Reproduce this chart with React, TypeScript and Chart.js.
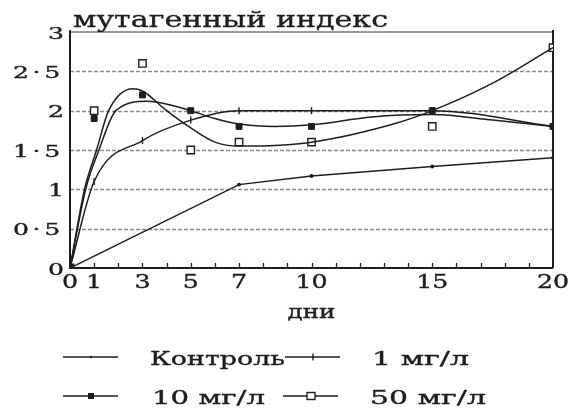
import { useEffect, useRef } from "react";
import { Chart, registerables } from "chart.js";

Chart.register(...registerables);

// ---- data ----
const titleText = "мутагенный индекс";
const xAxisTitle = "дни";
const seriesNames = ["Контроль", "1 мг/л", "10 мг/л", "50 мг/л"];

const days = [0, 1, 3, 5, 7, 10, 15, 20];
const xTickValues = [0, 1, 3, 5, 7, 10, 15, 20];
const yTickValues = [0, 0.5, 1, 1.5, 2, 2.5, 3];
const yTickLabels = ["0", "0·5", "1", "1·5", "2", "2·5", "3"];

const controlDays = [0, 7, 10, 15, 20];
const controlValues = [0, 1.06, 1.17, 1.29, 1.4];

const mg1Values = [0, 1.1, 1.62, 1.88, 2.0, 2.0, 2.0, 1.8];

const mg10Values = [0, 1.9, 2.2, 2.0, 1.8, 1.8, 2.0, 1.8];
const mg10CurveDays = [0, 0.65, 1.2, 1.9, 3.2, 4.2, 5, 6, 7, 8.5, 10, 12.5, 15, 17.5, 20];
const mg10CurveValues = [0, 1.0, 1.5, 2.0, 2.12, 2.07, 2.0, 1.9, 1.83, 1.8, 1.82, 1.92, 1.95, 1.88, 1.8];

const mg50Values = [0, 2.0, 2.6, 1.5, 1.6, 1.6, 1.8, 2.8];
const mg50CurveDays = [0, 0.6, 1.1, 1.6, 2.6, 3, 4, 5, 6, 7, 10, 13.5, 15, 17.5, 20];
const mg50CurveValues = [0, 1.0, 1.5, 2.0, 2.28, 2.25, 2.0, 1.78, 1.6, 1.55, 1.6, 1.84, 2.0, 2.35, 2.8];

const FONT = '"DejaVu Serif", serif';
const INK = "#1e1e1e";

function pts(xs: number[], ys: number[]) {
  return xs.map((x, i) => ({ x, y: ys[i] }));
}

function drawText(
  ctx: CanvasRenderingContext2D,
  text: string,
  x: number,
  baseline: number,
  o: { size: number; weight?: string; align?: "left" | "center" | "right"; targetWidth?: number; scaleX?: number; spacing?: number }
) {
  ctx.save();
  ctx.font = `${o.weight || "normal"} ${o.size}px ${FONT}`;
  (ctx as any).letterSpacing = (o.spacing || 0) + "px";
  ctx.textBaseline = "alphabetic";
  ctx.textAlign = "left";
  ctx.fillStyle = INK;
  const w = ctx.measureText(text).width;
  const sx = o.targetWidth ? o.targetWidth / w : o.scaleX || 1;
  const dw = w * sx;
  const left = o.align === "center" ? x - dw / 2 : o.align === "right" ? x - dw : x;
  ctx.translate(left, baseline);
  ctx.scale(sx, 1);
  ctx.fillText(text, 0, 0);
  ctx.strokeStyle = INK;
  ctx.lineWidth = 0.35;
  ctx.strokeText(text, 0, 0);
  ctx.restore();
}

function marker(ctx: CanvasRenderingContext2D, kind: string, x: number, y: number) {
  ctx.save();
  ctx.strokeStyle = INK;
  ctx.fillStyle = INK;
  ctx.lineWidth = 1.4;
  if (kind === "dot") {
    ctx.beginPath();
    ctx.arc(x, y, 1.2, 0, Math.PI * 2);
    ctx.fill();
  } else if (kind === "cross") {
    ctx.beginPath();
    ctx.moveTo(x, y - 3.5);
    ctx.lineTo(x, y + 3.5);
    ctx.stroke();
  } else if (kind === "filled") {
    ctx.fillRect(x - 3, y - 3, 6, 6);
  } else if (kind === "open") {
    ctx.fillStyle = "#fff";
    ctx.fillRect(x - 4, y - 3.5, 8, 7);
    ctx.strokeRect(x - 4, y - 3.5, 8, 7);
  }
  ctx.restore();
}

const decorPlugin = {
  id: "decor",
  beforeDatasetsDraw(chart: any) {
    const ctx: CanvasRenderingContext2D = chart.ctx;
    const xs = chart.scales.x;
    const ys = chart.scales.y;
    const l = xs.getPixelForValue(0);
    const r = xs.getPixelForValue(20);
    const b = ys.getPixelForValue(0);
    const t = ys.getPixelForValue(3);
    ctx.save();
    ctx.strokeStyle = "#8c8c8c";
    ctx.lineWidth = 1.3;
    ctx.setLineDash([4, 2]);
    yTickValues.forEach((v) => {
      if (v === 0 || v === 3) return;
      const y = Math.round(ys.getPixelForValue(v)) + 0.5;
      ctx.beginPath();
      ctx.moveTo(l, y);
      ctx.lineTo(r, y);
      ctx.stroke();
    });
    ctx.setLineDash([]);
    ctx.strokeStyle = "#7a7a7a";
    ctx.beginPath();
    ctx.moveTo(l, t);
    ctx.lineTo(r, t);
    ctx.stroke();
    ctx.strokeStyle = INK;
    ctx.lineWidth = 2;
    ctx.beginPath();
    ctx.moveTo(l, t - 2);
    ctx.lineTo(l, b);
    ctx.lineTo(r, b);
    ctx.moveTo(r, t - 2);
    ctx.lineTo(r, b);
    ctx.stroke();
    ctx.lineWidth = 1.3;
    for (let d = 1; d < 20; d++) {
      const x = Math.round(xs.getPixelForValue(d)) + 0.5;
      ctx.beginPath();
      ctx.moveTo(x, b);
      ctx.lineTo(x, b - 5);
      ctx.stroke();
    }
    ctx.restore();
  },
  afterDraw(chart: any) {
    const ctx: CanvasRenderingContext2D = chart.ctx;
    const xs = chart.scales.x;
    const ys = chart.scales.y;
    const l = xs.getPixelForValue(0);
    const r = xs.getPixelForValue(20);
    const b = ys.getPixelForValue(0);
    drawText(ctx, titleText, l + 3, 27, { size: 22, targetWidth: 315 });
    ctx.save();
    ctx.font = `normal 17px ${FONT}`;
    const digitW = ctx.measureText("0").width;
    ctx.restore();
    const sx = 16 / digitW;
    yTickValues.forEach((v, i) => {
      const lab = yTickLabels[i];
      drawText(ctx, lab, l - 6, ys.getPixelForValue(v) + 6.5, {
        size: 17,
        align: "right",
        scaleX: sx,
        spacing: lab.length > 1 ? 2.5 : 0,
      });
    });
    xTickValues.forEach((v) => {
      drawText(ctx, String(v), xs.getPixelForValue(v), b + 20, { size: 18, align: "center", scaleX: sx * 0.95 });
    });
    drawText(ctx, xAxisTitle, (l + r) / 2, b + 50, { size: 18, align: "center", targetWidth: 48 });

    const rows = [357, 396];
    const items = [
      { name: seriesNames[0], kind: "dot", lx: 63, tx: 150, w: 135, row: 0 },
      { name: seriesNames[1], kind: "cross", lx: 285, tx: 372, w: 97, row: 0 },
      { name: seriesNames[2], kind: "filled", lx: 63, tx: 152, w: 113, row: 1 },
      { name: seriesNames[3], kind: "open", lx: 283, tx: 370, w: 116, row: 1 },
    ];
    items.forEach((it) => {
      const y = rows[it.row];
      ctx.save();
      ctx.strokeStyle = INK;
      ctx.lineWidth = 1.4;
      ctx.beginPath();
      ctx.moveTo(it.lx, y);
      ctx.lineTo(it.lx + 55, y);
      ctx.stroke();
      ctx.restore();
      marker(ctx, it.kind, it.lx + 28, y);
      drawText(ctx, it.name, it.tx, y + 8, { size: 18, targetWidth: it.w });
    });
  },
};

export default function App() {
  const ref = useRef<HTMLCanvasElement | null>(null);
  useEffect(() => {
    document.body.style.margin = "0";
    const canvas = ref.current!;
    const lineBase = {
      borderColor: INK,
      backgroundColor: INK,
      borderWidth: 1.5,
      fill: false,
      cubicInterpolationMode: "monotone" as const,
    };
    const chart = new Chart(canvas, {
      type: "line",
      data: {
        datasets: [
          {
            ...lineBase,
            label: seriesNames[0],
            data: pts(controlDays, controlValues),
            pointRadius: 1.2,
            cubicInterpolationMode: "default" as any,
            tension: 0,
          },
          {
            ...lineBase,
            label: seriesNames[1],
            data: pts(days, mg1Values),
            pointStyle: "line",
            rotation: 90,
            pointRadius: 3.5,
            pointBorderWidth: 1.4,
          },
          {
            ...lineBase,
            label: seriesNames[2] + " curve",
            data: pts(mg10CurveDays, mg10CurveValues),
            pointRadius: 0,
          },
          {
            ...lineBase,
            label: seriesNames[3] + " curve",
            data: pts(mg50CurveDays, mg50CurveValues),
            pointRadius: 0,
          },
          {
            label: seriesNames[2],
            data: pts(days, mg10Values),
            showLine: false,
            pointStyle: "rect",
            pointRadius: 4.2,
            pointBorderWidth: 1,
            borderColor: INK,
            backgroundColor: INK,
          },
          {
            label: seriesNames[3],
            data: pts(days, mg50Values),
            showLine: false,
            pointStyle: "rect",
            pointRadius: 5.2,
            pointBorderWidth: 1.4,
            borderColor: INK,
            backgroundColor: "#ffffff",
          },
        ],
      },
      options: {
        responsive: false,
        animation: false,
        devicePixelRatio: 1,
        layout: { padding: { left: 70, right: 18, top: 32, bottom: 141 } },
        plugins: { legend: { display: false }, title: { display: false }, tooltip: { enabled: false } },
        scales: {
          x: { type: "linear", min: 0, max: 20, display: false },
          y: { type: "linear", min: 0, max: 3, display: false },
        },
      },
      plugins: [decorPlugin],
    });
    return () => chart.destroy();
  }, []);
  return <canvas ref={ref} width={571} height={409} style={{ display: "block", width: 571, height: 409 }} />;
}
